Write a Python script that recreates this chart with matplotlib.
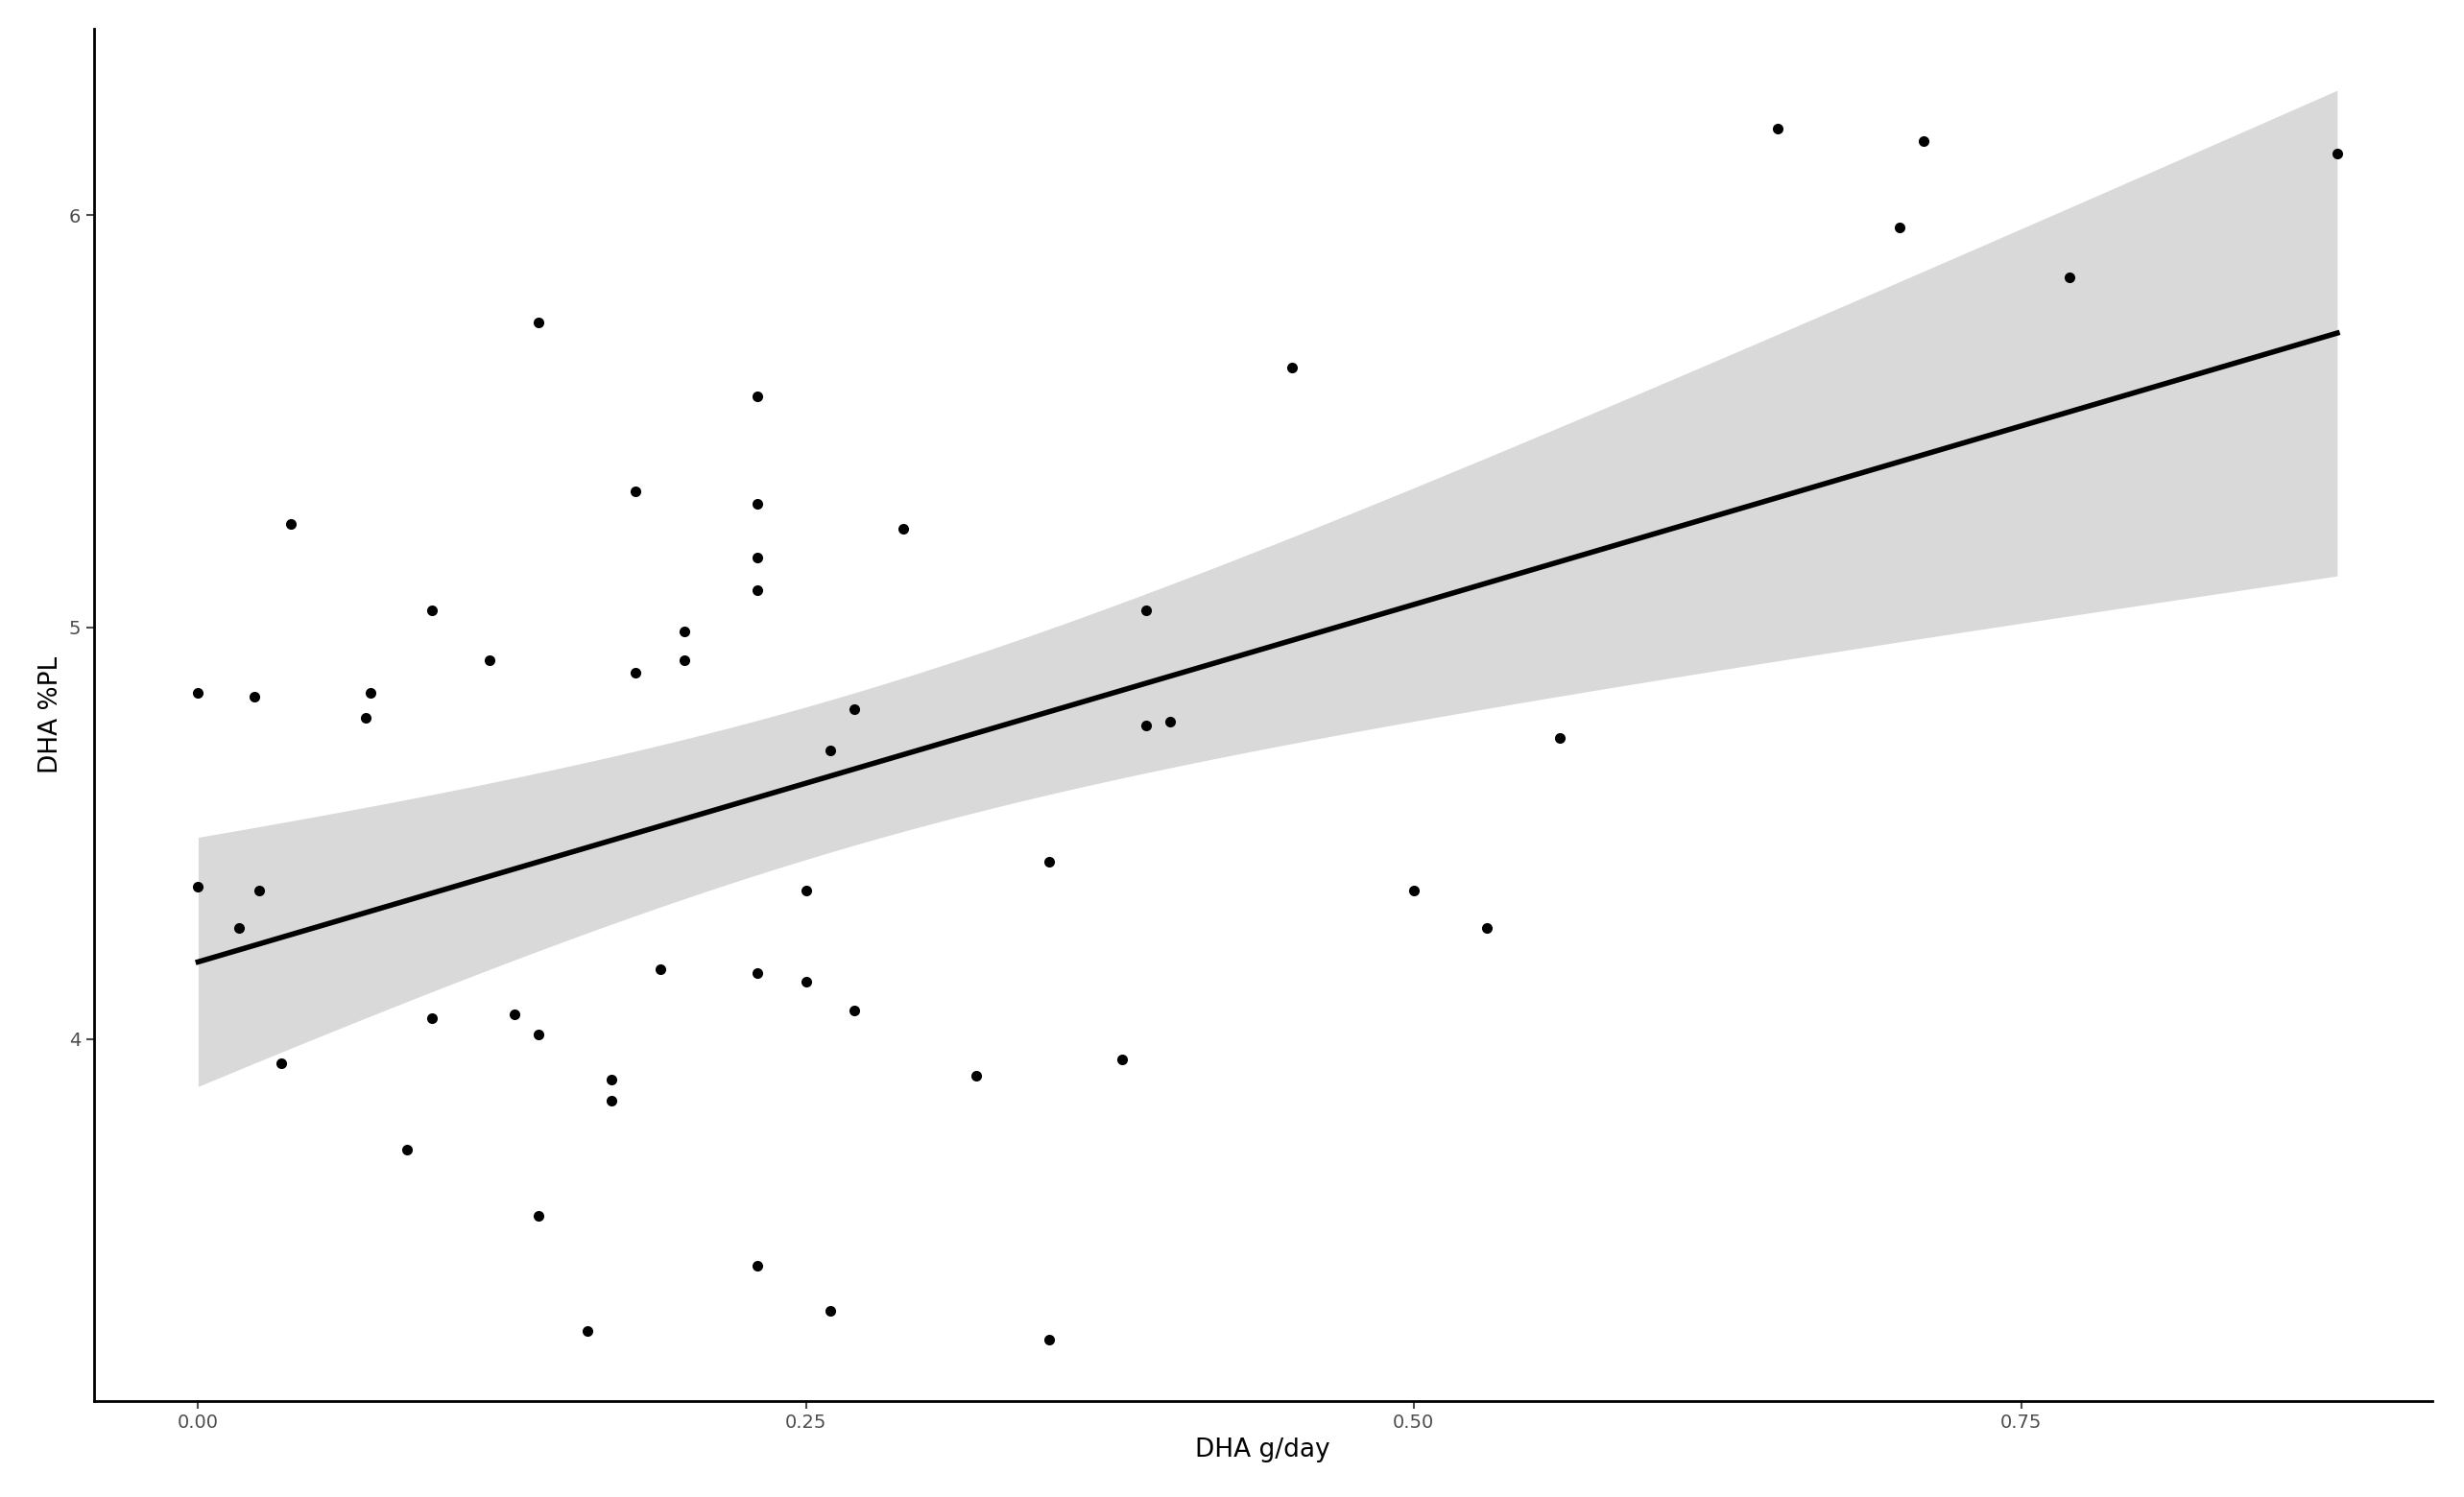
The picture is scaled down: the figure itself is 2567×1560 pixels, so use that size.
import numpy as np
import matplotlib
matplotlib.use("Agg")
import matplotlib.pyplot as plt

dha_g = [0,0,0.017,0.023,0.025,0.034,0.038,0.069,0.071,0.086,0.096,0.096,0.12,0.13,0.14,0.14,0.14,0.16,0.17,0.17,
         0.18,0.18,0.19,0.20,0.20,0.23,0.23,0.23,0.23,0.23,0.23,0.25,0.25,0.26,0.26,0.27,0.27,0.29,0.32,0.35,0.35,
         0.38,0.39,0.39,0.40,0.45,0.50,0.53,0.56,0.65,0.70,0.71,0.77,0.88]
dha_pl = [4.84,4.37,4.27,4.83,4.36,3.94,5.25,4.78,4.84,3.73,5.04,4.05,4.92,4.06,5.74,4.01,3.57,3.29,3.90,3.85,
          5.33,4.89,4.17,4.99,4.92,5.56,5.30,5.17,5.09,4.16,3.45,4.36,4.14,4.70,3.34,4.80,4.07,5.24,3.91,4.43,3.27,
          3.95,5.04,4.76,4.77,5.63,4.36,4.27,4.73,6.21,5.97,6.18,5.85,6.15]
x = np.array(dha_g); y = np.array(dha_pl)

fig = plt.figure(figsize=(25.67, 15.6), dpi=100)
ax = fig.add_axes([0.038, 0.064, 0.949, 0.917])

# linear fit with 95% CI
n = len(x)
b, a = np.polyfit(x, y, 1)
res = y - (a + b*x)
s = np.sqrt(np.sum(res**2)/(n-2))
xs = np.linspace(x.min(), x.max(), 200)
se = s*np.sqrt(1/n + (xs-x.mean())**2/np.sum((x-x.mean())**2))
t = 2.007
yh = a + b*xs
ax.fill_between(xs, yh-t*se, yh+t*se, color="#d9d9d9", lw=0, zorder=1)
ax.scatter(x, y, s=64, color="black", zorder=2, linewidths=0)
ax.plot(xs, yh, color="black", lw=4, zorder=3)

ax.set_xlim(-0.043, 0.919)
ax.set_ylim(3.12, 6.454)
ax.set_xticks([0, 0.25, 0.5, 0.75])
ax.set_xticklabels(["0.00", "0.25", "0.50", "0.75"])
ax.set_yticks([4, 5, 6])
ax.tick_params(labelsize=14, colors="#4d4d4d", length=6, width=1.5)
for sp in ["top", "right"]:
    ax.spines[sp].set_visible(False)
for sp in ["left", "bottom"]:
    ax.spines[sp].set_linewidth(2)
ax.set_xlabel("DHA g/day", fontsize=19)
ax.set_ylabel("DHA %PL", fontsize=19)
fig.savefig("out.png", dpi=100)
